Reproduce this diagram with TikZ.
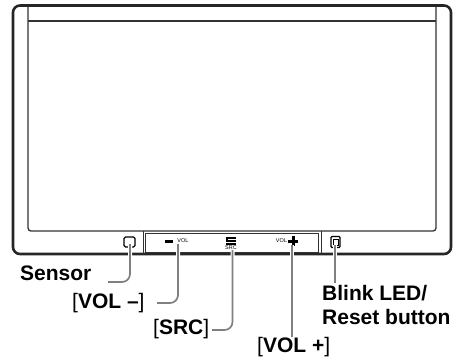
\documentclass[tikz,border=0pt]{standalone}
\usepackage{fontspec}
\setmainfont{Liberation Sans}
\tikzset{
  frameline/.style={line width=2.6pt,black!85},
  thinline/.style={line width=1.3pt,black!80},
  leader/.style={line width=1.7pt,black!50,rounded corners=8pt,
    preaction={draw=white,line width=4pt}},
  callout/.style={inner sep=0pt,font=\fontsize{21}{23}\selectfont\bfseries,anchor=west},
  tiny/.style={inner sep=0pt,font=\fontsize{5.5}{6}\selectfont},
}
\begin{document}
\begin{tikzpicture}[x=1pt, y=-1pt]
\useasboundingbox (0,0) rectangle (453,360);
% screen
\draw[thinline,rounded corners=3pt] (28,5) -- (28,231) -- (436,231) -- (436,5);
\draw[thinline] (28,21) -- (436,21);
% front panel
\draw[frameline,rounded corners=7pt] (13,5.5) rectangle (451,254);
\draw[line width=1pt,black!80] (143,231) -- (143,254);
\draw[line width=1pt,black!80] (321,231) -- (321,254);
\draw[line width=1pt,black!80] (145.5,233.5) rectangle (318.5,252);
\node[draw,line width=1.2pt,rounded corners=1.5pt,inner sep=0pt,minimum width=11pt,minimum height=10pt] (sensor) at (129.5,242) {};
\fill[black] (165,239.5) rectangle (173,242.5);
\node[tiny] (vola) at (183,241) {VOL};
\fill[black] (226,237) rectangle (236,239);
\fill[black] (226,240) rectangle (236,242);
\fill[black] (226,237) rectangle (228,242);
\fill[black] (226,243) rectangle (236,244.5);
\node[tiny] (src) at (231,248) {SRC};
\node[tiny] (volb) at (281.5,241) {VOL};
\fill[black] (288,239.5) rectangle (298,242.5);
\fill[black] (291.5,236) rectangle (294.5,246);
\node[draw,line width=1.4pt,rounded corners=1pt,inner sep=0pt,minimum width=9pt,minimum height=11pt] (led) at (335.5,242) {};
\node[draw,line width=.5pt,inner sep=0pt,minimum width=4.5pt,minimum height=6pt] (ledin) at (335.5,242) {};
% ends of the leaders
\coordinate (sensortip) at (130,244);
\coordinate (volatip) at (178,244);
\coordinate (srctip) at (232.5,250);
\coordinate (volbtip) at (292,245);
\coordinate (ledtip) at (335,245);
\coordinate (sensorfoot) at (108,282);
\coordinate (volafoot) at (157,303);
\coordinate (srcfoot) at (212,330);
% labels
\node[callout] (lblsensor) at (20,273) {Sensor};
\node[callout] (lblvola) at (72,303) {{\mdseries[}VOL --{\mdseries]}};
\node[callout] (lblsrc) at (153,329) {{\mdseries[}SRC{\mdseries]}};
\node[callout] (lblvolb) at (257,347) {{\mdseries[}VOL +{\mdseries]}};
\node[callout,align=left,font=\fontsize{21}{23.5}\selectfont\bfseries] (lblled) at (322,305) {Blink LED/\\Reset button};
% leaders
\draw[leader] (sensorfoot) -| (sensortip);
\draw[leader] (volafoot) -| (volatip);
\draw[leader] (srcfoot) -| (srctip);
\draw[leader] (lblvolb.north -| volbtip) -- (volbtip);
\draw[leader] (lblled.north -| ledtip) ++(0,-2) -- (ledtip);
\end{tikzpicture}
\end{document}
